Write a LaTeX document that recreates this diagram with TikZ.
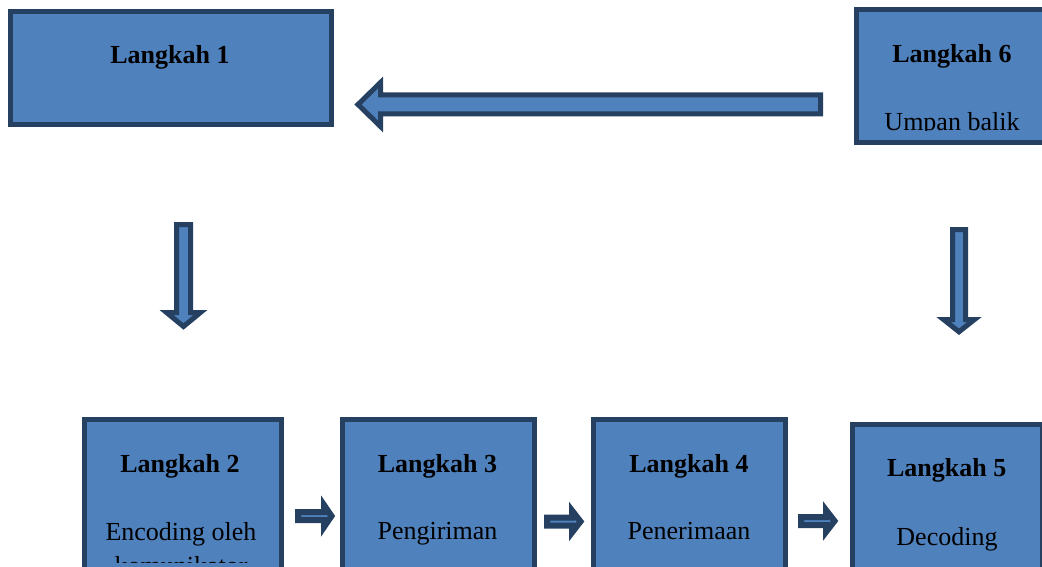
\documentclass[tikz,border=0pt]{standalone}
\usepackage{fontspec}
\setmainfont{Liberation Serif}
\definecolor{boxfill}{HTML}{4F81BD}
\definecolor{boxline}{HTML}{254061}
\begin{document}
\begin{tikzpicture}[x=1pt,y=-1pt,
  stepbox/.style={draw=boxline,fill=boxfill,line width=5pt,rectangle,inner sep=0pt,outer sep=0pt},
  blockarrow/.style={draw=boxline,fill=boxfill,line width=5pt,line join=miter},
  smallarrow/.style={draw=boxline,fill=boxfill,line width=6pt,line join=miter},
  ttl/.style={anchor=base,inner sep=0pt,font=\fontsize{26}{31}\selectfont\bfseries},
  txt/.style={anchor=base,inner sep=0pt,font=\fontsize{26}{31}\selectfont}]
\useasboundingbox (0,0) rectangle (1042,567);
\clip (0,0) rectangle (1042,567);
% boxes
\node[stepbox,minimum width=321pt,minimum height=113pt] (b1) at (171,68) {};
\node[stepbox,minimum width=189.5pt,minimum height=133pt] (b6) at (951.25,76) {};
\node[stepbox,minimum width=197pt,minimum height=158pt] (b2) at (182.5,498) {};
\node[stepbox,minimum width=192pt,minimum height=158pt] (b3) at (438,498) {};
\node[stepbox,minimum width=192pt,minimum height=158pt] (b4) at (689.5,498) {};
\node[stepbox,minimum width=190.5pt,minimum height=158pt] (b5) at (947.25,503) {};
% texts
\node[ttl] (t1) at (170,64) {Langkah 1};
\node[ttl] (t6) at (952,63) {Langkah 6};
\begin{scope}
  \clip (850,0) rectangle (1042,130.5);
  \node[txt] (s6) at (952,130.5) {Umpan balik};
\end{scope}
\node[ttl] (t2) at (180,472) {Langkah 2};
\begin{scope}
  \clip (86,424) rectangle (279,562);
  \node[txt] (s2) at (181,540) {Encoding oleh};
  \node[txt] (s2b) at (181,574) {komunikator};
\end{scope}
\node[ttl] (t3) at (437.5,472) {Langkah 3};
\node[txt] (s3) at (437.5,539) {Pengiriman};
\node[ttl] (t4) at (689,472) {Langkah 4};
\node[txt] (s4) at (689,539) {Penerimaan};
\node[ttl] (t5) at (946.7,476.7) {Langkah 5};
\node[txt] (s5) at (947,545) {Decoding};
% arrows
\draw[blockarrow] (820.5,95) -- (380.5,95) -- (380.5,82.5) -- (358,104.5) -- (380.5,126.5) -- (380.5,114) -- (820.5,114) -- cycle;
\draw[blockarrow] (176.5,224.5) -- (190.5,224.5) -- (190.5,312.5) -- (200.5,312.5) -- (183.5,326.5) -- (166.5,312.5) -- (176.5,312.5) -- cycle;
\draw[blockarrow] (952.5,229.5) -- (965.5,229.5) -- (965.5,319.5) -- (974.5,319.5) -- (959,331.8) -- (943.5,319.5) -- (952.5,319.5) -- cycle;
\draw[smallarrow] (298,512) -- (324,512) -- (324,505) -- (331.5,516) -- (324,527) -- (324,520) -- (298,520) -- cycle;
\draw[smallarrow] (547,517.5) -- (572,517.5) -- (572,510.5) -- (580.5,521.5) -- (572,532.5) -- (572,525.5) -- (547,525.5) -- cycle;
\draw[smallarrow] (801,517) -- (826,517) -- (826,510) -- (834.5,521) -- (826,532) -- (826,525) -- (801,525) -- cycle;
\end{tikzpicture}
\end{document}
